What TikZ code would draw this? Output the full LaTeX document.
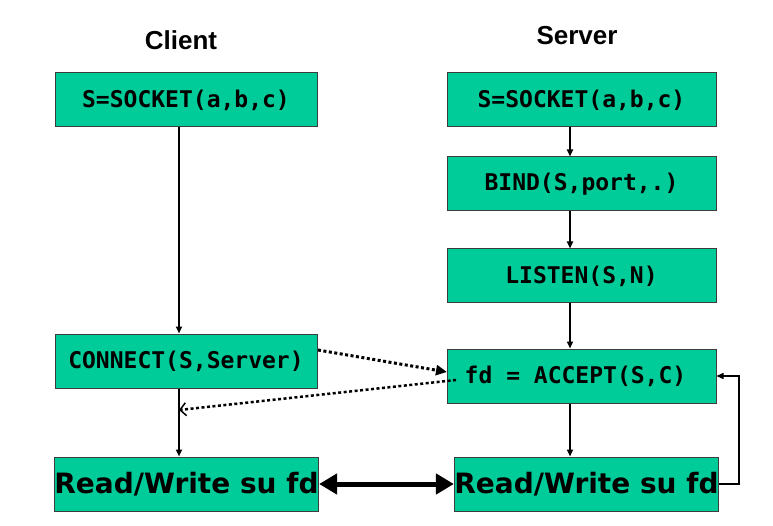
\documentclass[tikz,border=0pt]{standalone}
\usepackage{fontspec}
\setmainfont{Liberation Sans}
\newfontfamily\monob{DejaVu Sans Mono}[WordSpace={1,0,0}]
\newfontfamily\dvs{DejaVu Sans}
\usetikzlibrary{arrows.meta}
\definecolor{boxgreen}{RGB}{0,204,153}
\definecolor{boxedge}{RGB}{60,60,60}
\begin{document}
\begin{tikzpicture}[x=1pt,y=-1pt,
  box/.style={draw=boxedge, line width=1pt, fill=boxgreen, inner sep=0pt,
    minimum height=54pt, font=\monob\bfseries\fontsize{23}{23}\selectfont},
  rwbox/.style={box, minimum width=263pt, font=\dvs\bfseries\fontsize{28}{28}\selectfont},
  title/.style={font=\bfseries\fontsize{26}{26}\selectfont},
  vline/.style={line width=1.8pt, -{Triangle[length=7pt,width=6pt]}},
  dotarrow/.style={line width=3pt, dash pattern=on 3pt off 2.5pt},
  fb/.style={line width=1.5pt, -{Triangle[length=7pt,width=6pt]}},
  big/.style={line width=5pt, {Triangle[length=18pt,width=20pt]}-{Triangle[length=18pt,width=20pt]}}
]
\useasboundingbox (0,0) rectangle (773,526);
\node[title] (tc) at (181,40) {Client};
\node[title] (ts) at (577,36) {Server};

\node[box, minimum width=262pt] (cs) at (186,100) {S=SOCKET(a,b,c)};
\node[box, minimum width=262pt] (cc) at (186,361) {CONNECT(S,Server)};
\node[rwbox] (cr) at (186.5,484) {Read/Write su fd};

\node[box, minimum width=269pt] (ss) at (581.5,100) {S=SOCKET(a,b,c)};
\node[box, minimum width=269pt] (sb) at (581.5,184) {BIND(S,port,.)};
\node[box, minimum width=269pt] (sl) at (581.5,276) {LISTEN(S,N)};
\node[box, minimum width=269pt] (sa) at (581.5,376) {\hspace*{1pt}fd = ACCEPT(S,C)\hspace*{13pt}};
\node[rwbox] (sr) at (586.5,484) {Read/Write su fd};

\coordinate (clx) at (179,0);
\coordinate (svx) at (570,0);
\draw[vline] (cs.south -| clx) -- (cc.north -| clx);
\draw[vline] (cc.south -| clx) -- (cr.north -| clx);
\draw[vline] (ss.south -| svx) -- (sb.north -| svx);
\draw[vline] (sb.south -| svx) -- (sl.north -| svx);
\draw[vline] (sl.south -| svx) -- (sa.north -| svx);
\draw[vline] (sa.south -| svx) -- (sr.north -| svx);

\coordinate (d1s) at (318,350);
\coordinate (d1e) at (447,372);
\coordinate (d2s) at (456,380);
\coordinate (d2e) at (179,410);
\draw[dotarrow, -{Triangle[length=11pt,width=10pt]}] (d1s) -- (d1e);
\draw[dotarrow, line width=2.5pt, -{Straight Barb[length=6pt,width=13pt,line width=1.5pt]}] (d2s) -- (d2e);

\draw[big] (cr.east) -- (sr.west);
\draw[fb] (sr.east) -- ++(20,0) |- (sa.east);
\end{tikzpicture}
\end{document}
